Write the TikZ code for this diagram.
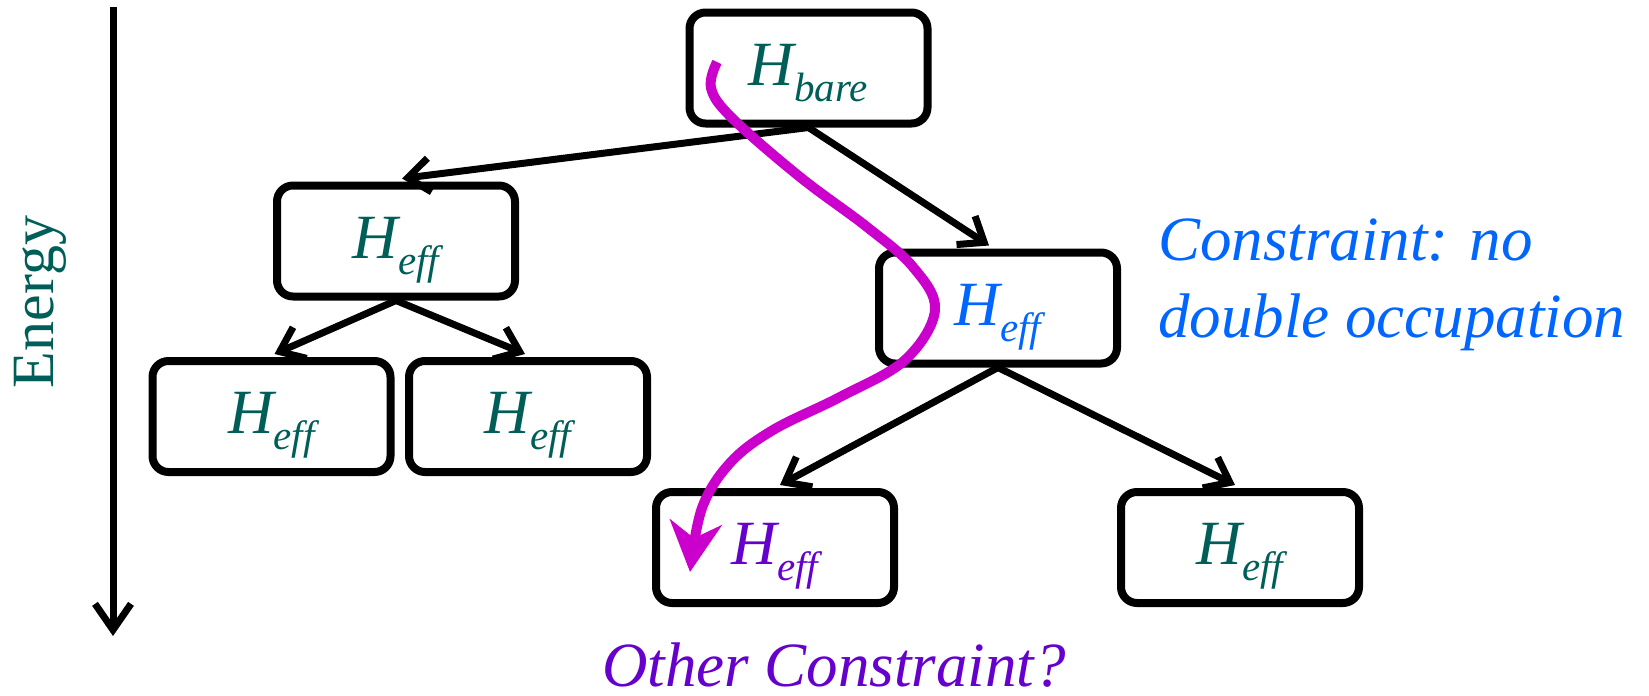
\documentclass[tikz,border=0pt]{standalone}
\usepackage{fontspec}
\setmainfont{Liberation Serif}
\newfontfamily\tms{Liberation Serif}
\usetikzlibrary{arrows.meta,calc}
\definecolor{hteal}{RGB}{0,94,88}
\definecolor{hblue}{RGB}{0,102,255}
\definecolor{hpurple}{RGB}{102,0,204}
\definecolor{hmag}{RGB}{204,0,204}
\newcommand{\HH}[1]{H\raisebox{-16pt}{\fontsize{41}{41}\selectfont #1}}
\begin{document}
\begin{tikzpicture}[x=1pt,y=-1pt,
  box/.style={draw, line width=8pt, rounded corners=16pt, minimum width=238pt,
    minimum height=111pt, text height=44pt, text depth=10pt, inner sep=0pt,
    text=hteal, font=\tms\fontsize{63}{70}\selectfont\itshape},
  arr/.style={line width=7pt, -{Straight Barb[length=22pt,width=34pt]}},
  note/.style={font=\tms\fontsize{63}{70}\selectfont\itshape, inner sep=0pt}]
\useasboundingbox (0,0) rectangle (1649,696);

% energy axis
\coordinate (etop) at (113,7);
\coordinate (ebot) at (113,636);
\draw[line width=7pt, -{Straight Barb[length=26pt,width=36pt]}] (etop) -- (ebot);
\node[rotate=90, text=hteal, font=\tms\fontsize{60}{60}\selectfont, inner sep=0pt] (energy) at (40,302) {Energy};

% boxes
\node[box] (bare) at (808.5,68) {\HH{bare}};
\node[box] (m1) at (396,241) {\HH{eff}};
\node[box, text=hblue] (m2) at (998,308) {\HH{eff}};
\node[box] (l1) at (271.5,416.5) {\HH{eff}};
\node[box] (l2) at (528,416.5) {\HH{eff}};
\node[box, text=hpurple] (b1) at (775,547.5) {\HH{eff}};
\node[box] (b2) at (1240,547.5) {\HH{eff}};

% arrows
\draw[arr] (bare.south) -- ($(m1.north)+(6,-3)$);
\draw[arr] (bare.south) -- ($(m2.north)+(-9,-3)$);
\draw[arr] (m1.south) -- ($(l1.north)+(3,-3)$);
\draw[arr] (m1.south) -- ($(l2.north)+(-3,-3)$);
\draw[arr] (m2.south) -- ($(b1.north)+(5,-3)$);
\draw[arr] (m2.south) -- ($(b2.north)+(-5,-3)$);

% notes
\node[note, text=hblue, anchor=base west] (c1) at (1158,260) {Constraint: no};
\node[note, text=hblue, anchor=base west] (c2) at (1158,337) {double occupation};
\node[note, text=hpurple, anchor=base, text depth=0pt] (oc) at (834,686) {Other Constraint?};

% magenta path
\coordinate (ms) at (717,62);
\coordinate (me) at (690,572);
\draw[line width=10pt, hmag, -{Stealth[length=50pt,width=52pt,inset=16pt]}]
  plot[smooth, tension=0.6] coordinates {(ms) (711,88) (732,118) (800,177) (867,227) (913,267) (935,310) (905,360) (840,397) (773,430) (730,463) (702,508) (me)};
\end{tikzpicture}
\end{document}
